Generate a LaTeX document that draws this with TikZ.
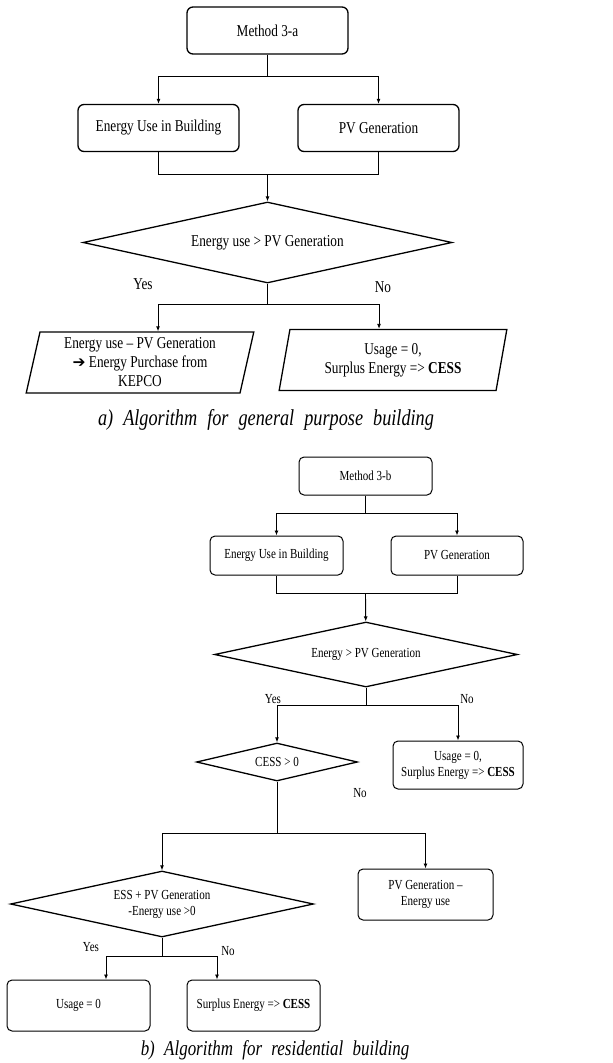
\documentclass[tikz,border=0pt]{standalone}
\usepackage{fontspec}
\setmainfont{Liberation Serif}[FakeStretch=0.8]
\newfontfamily\symfont{DejaVu Sans}
\newfontfamily\capfont{Liberation Serif}[FakeStretch=0.8, WordSpace=2.2]
\usetikzlibrary{calc, shapes, arrows.meta}

\begin{document}
\begin{tikzpicture}[x=1pt, y=-1pt]

    \tikzstyle{box}=[draw=black, rounded corners=6pt, line width=1.3pt, align=center, inner sep=0pt];
    \tikzstyle{bigbox}=[box, minimum width=161pt, minimum height=47pt, font=\fontsize{16.6}{19}\selectfont];
    \tikzstyle{smallbox}=[box, rounded corners=5pt, line width=1pt, font=\fontsize{13.8}{16}\selectfont];
    \tikzstyle{choice}=[draw=black, diamond, aspect=4, inner sep=0pt, line width=1.3pt, align=center];
    \tikzstyle{slanted}=[draw=black, trapezium, trapezium left angle=78, trapezium right angle=102, trapezium stretches=true, line width=1.3pt, align=center, inner sep=0pt, minimum width=228pt, minimum height=61pt, font=\fontsize{16.6}{19}\selectfont];
    \tikzstyle{line}=[line width=0.9pt];
    \tikzstyle{arrow}=[line, -{Latex[length=5pt, width=4pt]}];
    \tikzstyle{bigtext}=[font=\fontsize{16.6}{19}\selectfont];
    \tikzstyle{smalltext}=[font=\fontsize{13.8}{16}\selectfont];
    \tikzstyle{caption}=[font=\capfont\itshape\fontsize{22.8}{26}\selectfont];

    \useasboundingbox (0, 0) rectangle (613, 1063);

    % a) general purpose building
    \node (a1) at (267.5, 30.5) [bigbox] {Method 3-a};
    \node (a2) at (158.5, 128) [bigbox] {Energy Use in Building};
    \node (a3) at (378.5, 128) [bigbox] {PV Generation};
    \node (a4) at (267.5, 242.5) [choice, minimum width=369pt, minimum height=81pt, font=\fontsize{16.6}{19}\selectfont] {Energy use > PV Generation};
    \node (a5) at (140, 362.5) [slanted] {Energy use -- PV Generation\\{\symfont\fontsize{15.5}{16}\selectfont ➔} Energy Purchase from\\KEPCO};
    \node (a6) at (393, 360) [slanted] {Usage = 0,\\Surplus Energy => \textbf{CESS}};

    \node (ya) at (143, 284) [bigtext] {Yes};
    \node (na) at (383, 287) [bigtext] {No};
    \node (capa) at (266, 420) [caption] {a) Algorithm for general purpose building};

    \coordinate (s1) at ($(a1.south)+(0, 22)$);
    \coordinate (s2) at ($(a1.south)+(0, 120)$);
    \coordinate (s3) at ($(a4.south)+(0, 21)$);

    \draw[line] (a1) -- (s1);
    \draw[arrow] (s1) -| (a2);
    \draw[arrow] (s1) -| (a3);
    \draw[line] (a2) |- (s2) -| (a3);
    \draw[arrow] (s2) -- (a4);
    \draw[line] (a4) -- (s3);
    \draw[arrow] (s3) -| ($(a5.north)+(18, 0)$);
    \draw[arrow] (s3) -| ($(a6.north)+(-14, 0)$);

    % b) residential building
    \node (b1) at (365.5, 476) [smallbox, minimum width=133pt, minimum height=38pt] {Method 3-b};
    \node (b2) at (276.5, 555.5) [smallbox, minimum width=133pt, minimum height=39pt] {Energy Use in Building};
    \node (b3) at (457, 555.5) [smallbox, minimum width=132pt, minimum height=39pt] {PV Generation};
    \node (b4) at (366, 654.5) [choice, minimum width=303pt, minimum height=65pt, font=\fontsize{13.8}{16}\selectfont] {Energy > PV Generation};
    \node (b5) at (277, 762) [choice, minimum width=161pt, minimum height=38pt, font=\fontsize{13.8}{16}\selectfont] {CESS > 0};
    \node (b6) at (458, 765) [smallbox, minimum width=130pt, minimum height=48pt] {Usage = 0,\\Surplus Energy => \textbf{CESS}};
    \node (b7) at (162, 904) [choice, minimum width=303pt, minimum height=66pt, font=\fontsize{13.8}{16}\selectfont] {ESS + PV Generation\\-Energy use >0};
    \node (b8) at (425.5, 894.5) [smallbox, minimum width=135pt, minimum height=51pt] {PV Generation --\\Energy use};
    \node (b9) at (78.5, 1005.5) [smallbox, minimum width=143pt, minimum height=51pt] {Usage = 0};
    \node (b10) at (253.5, 1005.5) [smallbox, minimum width=133pt, minimum height=51pt] {Surplus Energy => \textbf{CESS}};

    \node (yb1) at (273, 699) [smalltext] {Yes};
    \node (nb1) at (467, 699) [smalltext] {No};
    \node (nb2) at (360, 793) [smalltext] {No};
    \node (yb2) at (91, 947) [smalltext] {Yes};
    \node (nb3) at (228, 951) [smalltext] {No};
    \node (capb) at (275, 1050) [caption, font={\capfont\itshape\fontsize{21.2}{24}\selectfont}] {b) Algorithm for residential building};

    \coordinate (s4) at ($(b1.south)+(0, 18)$);
    \coordinate (s5) at ($(b1.south)+(0, 98)$);
    \coordinate (s6) at ($(b4.south)+(0, 18)$);
    \coordinate (s7) at ($(b5.south)+(0, 52)$);
    \coordinate (s8) at ($(b7.south)+(0, 19)$);

    \draw[line] (b1) -- (s4);
    \draw[arrow] (s4) -| (b2);
    \draw[arrow] (s4) -| (b3);
    \draw[line] (b2) |- (s5) -| (b3);
    \draw[arrow] (s5) -- (b4);
    \draw[line] (b4) -- (s6);
    \draw[arrow] (s6) -| (b5);
    \draw[arrow] (s6) -| (b6);
    \draw[line] (b5) -- (s7);
    \draw[arrow] (s7) -| (b7);
    \draw[arrow] (s7) -| (b8);
    \draw[line] (b7) -- (s8);
    \draw[arrow] (s8) -| ($(b9.north)+(27.5, 0)$);
    \draw[arrow] (s8) -| ($(b10.north)+(-36.5, 0)$);

\end{tikzpicture}
\end{document}
